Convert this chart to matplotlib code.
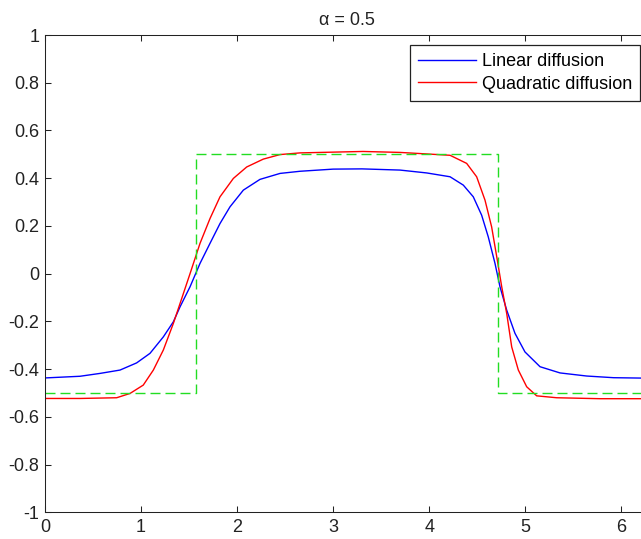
"""Linear vs quadratic diffusion of a square pulse, alpha = 0.5."""
import numpy as np
import matplotlib
matplotlib.use("Agg")
import matplotlib.pyplot as plt

# initial square pulse (green dashed)
x_init = [0.0, np.pi / 2, np.pi / 2, 3 * np.pi / 2, 3 * np.pi / 2, 2 * np.pi]
u_init = [-0.5, -0.5, 0.5, 0.5, -0.5, -0.5]

# linear diffusion solution
x_lin = [0.0, 0.364, 0.573, 0.781, 0.954, 1.093, 1.232, 1.336, 1.406,
         1.51, 1.614, 1.718, 1.822, 1.926, 2.065, 2.238, 2.447, 2.655,
         3.0, 3.3, 3.696, 3.974, 4.217, 4.355, 4.459, 4.546, 4.615, 4.685,
         4.737, 4.807, 4.893, 4.997, 5.154, 5.362, 5.64, 5.92, 6.283]
u_lin = [-0.437, -0.43, -0.418, -0.404, -0.374, -0.334, -0.265, -0.202,
         -0.139, -0.055, 0.043, 0.127, 0.21, 0.28, 0.35, 0.395, 0.42, 0.429,
         0.438, 0.439, 0.434, 0.422, 0.406, 0.371, 0.322, 0.245, 0.154,
         0.043, -0.055, -0.153, -0.25, -0.328, -0.39, -0.416, -0.429,
         -0.436, -0.438]

# quadratic diffusion solution
x_quad = [0.0, 0.364, 0.746, 0.885, 1.023, 1.128, 1.232, 1.336, 1.406,
          1.51, 1.614, 1.718, 1.822, 1.961, 2.1, 2.273, 2.447, 2.655, 3.31,
          3.696, 4.217, 4.39, 4.494, 4.581, 4.65, 4.709, 4.755, 4.807,
          4.859, 4.928, 5.015, 5.119, 5.327, 5.778, 6.283]
u_quad = [-0.523, -0.523, -0.52, -0.502, -0.467, -0.404, -0.32, -0.209,
          -0.125, 0.0, 0.127, 0.231, 0.322, 0.399, 0.447, 0.48, 0.499,
          0.506, 0.512, 0.508, 0.496, 0.462, 0.406, 0.308, 0.196, 0.057,
          -0.055, -0.167, -0.307, -0.404, -0.474, -0.512, -0.52, -0.524,
          -0.524]

x_ticks = [0, 1, 2, 3, 4, 5, 6]
y_ticks = [-1, -0.8, -0.6, -0.4, -0.2, 0, 0.2, 0.4, 0.6, 0.8, 1]
y_tick_labels = ["-1", "-0.8", "-0.6", "-0.4", "-0.2", "0",
                 "0.2", "0.4", "0.6", "0.8", "1"]

plt.rcParams["font.family"] = ["Liberation Sans", "DejaVu Sans"]
plt.rcParams["font.size"] = 13

W, H = 641, 539
fig = plt.figure(figsize=(W / 100, H / 100), dpi=100)
# axes run a little past the right edge of the canvas
ax = fig.add_axes([45 / W, 26.7 / H, 603.5 / W, 477.3 / H])

ax.plot(x_lin, u_lin, color="#0000ff", lw=1.0, label="Linear diffusion")
ax.plot(x_quad, u_quad, color="#ff0000", lw=1.0, label="Quadratic diffusion")
ax.plot(x_init, u_init, color="#22dd22", lw=1.0, ls=(0, (7.2, 3.6)))

ax.set_xlim(0, 2 * np.pi)
ax.set_ylim(-1, 1)
ax.set_xticks(x_ticks)
ax.set_yticks(y_ticks)
ax.set_yticklabels(y_tick_labels)
ax.tick_params(direction="in", length=4.5, width=0.75, top=True, right=True,
               colors="#222222", labelsize=13)
ax.tick_params(axis="y", pad=4)
ax.tick_params(axis="x", pad=5)
for sp in ax.spines.values():
    sp.set_linewidth(0.75)
    sp.set_color("#222222")

ax.set_title("\u03b1 = 0.5", fontsize=13, pad=7, color="#222222")

leg = ax.legend(loc="upper right", bbox_to_anchor=(640 / W, 1 - 45 / H),
                bbox_transform=fig.transFigure, borderaxespad=0,
                fancybox=False, framealpha=1, edgecolor="#222222",
                handlelength=3.2, handletextpad=0.32, borderpad=0.45,
                labelspacing=0.3, fontsize=13)
leg.get_frame().set_linewidth(0.9)

fig.savefig("out.png", dpi=100)
